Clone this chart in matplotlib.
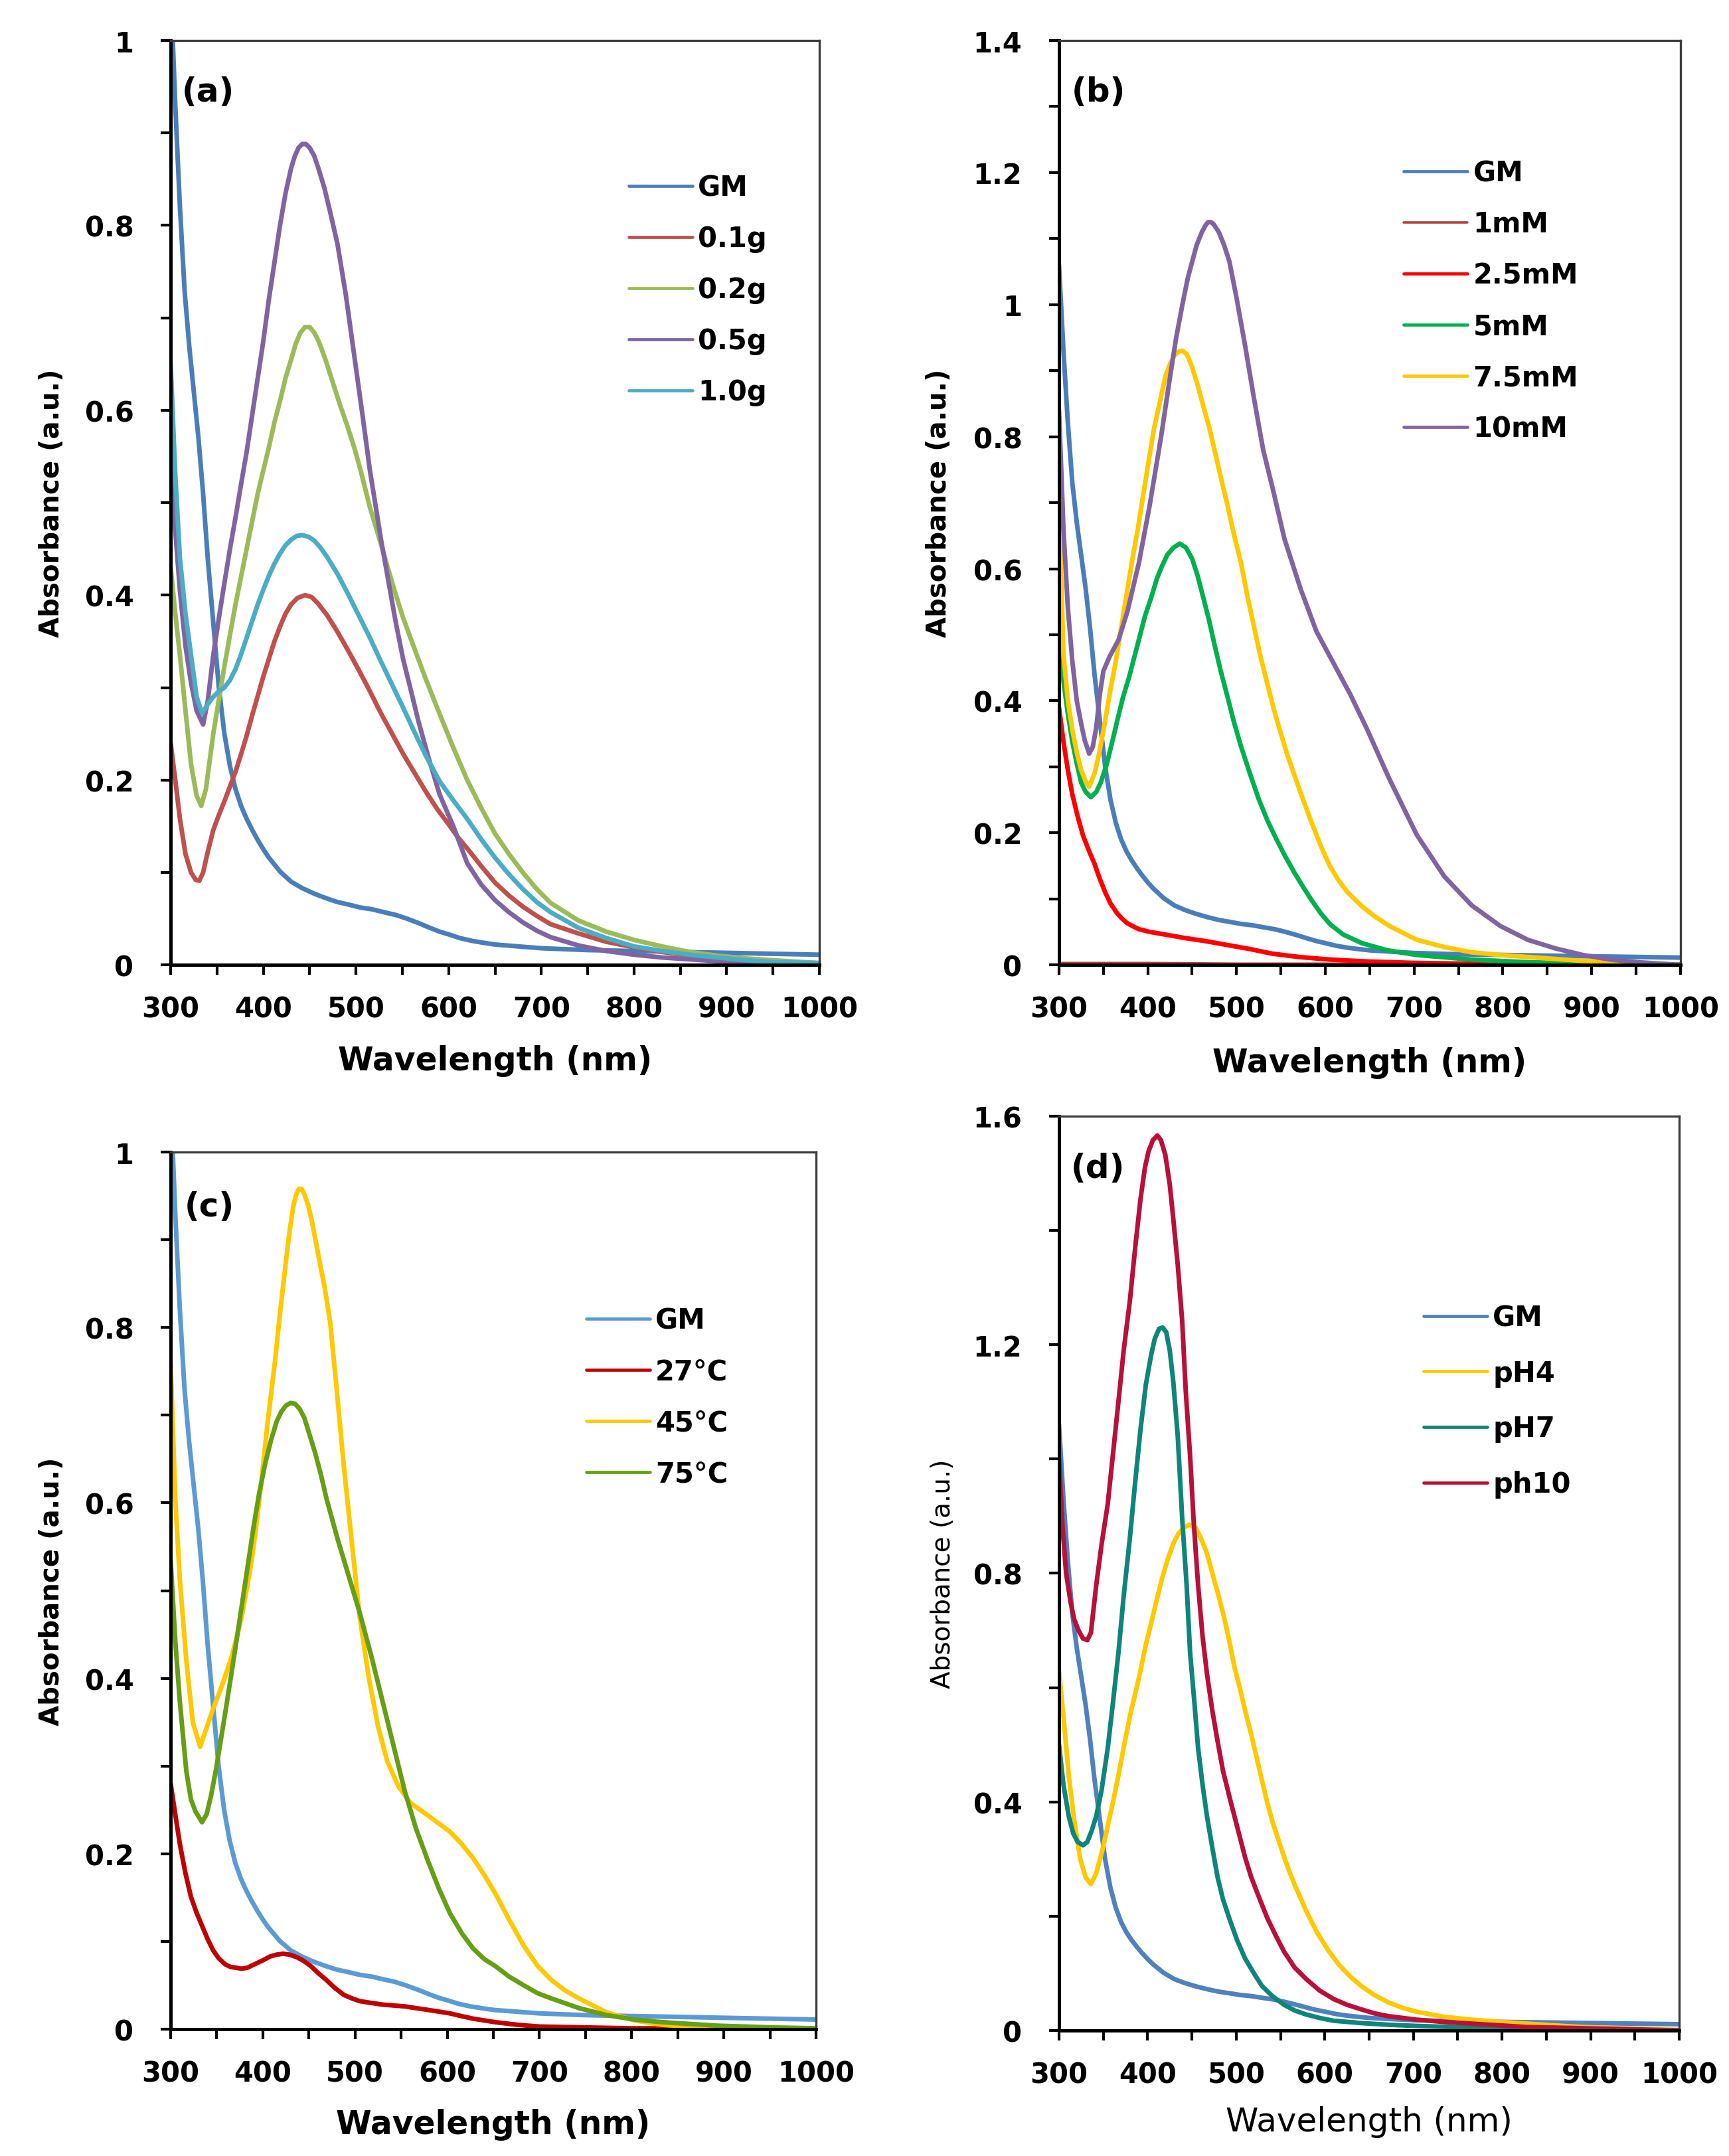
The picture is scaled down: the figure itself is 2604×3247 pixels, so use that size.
import matplotlib
matplotlib.use("Agg")
import matplotlib.pyplot as plt
from matplotlib.ticker import MultipleLocator, FuncFormatter

plt.rcParams['font.family'] = ['DejaVu Sans']
plt.rcParams['font.weight'] = 'bold'

# ---------------- data ----------------
# GM (shared reference spectrum)
gm_wl = [300, 305, 310, 315, 320, 325, 330, 335, 340, 346, 352, 358, 364, 370, 376, 382, 388, 394, 400, 406,
         418, 430, 442, 455, 468, 480, 493, 505, 518, 530, 543, 555, 568, 580, 590, 600, 612, 625, 637, 650,
         675, 700, 750, 800, 850, 900, 950, 1000]
gm_abs = [1.06, 0.93, 0.82, 0.73, 0.67, 0.62, 0.57, 0.51, 0.44, 0.37, 0.30, 0.25, 0.215, 0.19, 0.172, 0.158, 0.146,
          0.135, 0.125, 0.116, 0.101, 0.09, 0.083, 0.077, 0.072, 0.068, 0.065, 0.062, 0.06, 0.057, 0.054, 0.05,
          0.045, 0.04, 0.036, 0.033, 0.029, 0.026, 0.024, 0.022, 0.02, 0.018, 0.016, 0.015, 0.014, 0.013, 0.012, 0.011]

# (a) amount
a01_wl = [300, 305, 310, 316, 322, 327, 331, 335, 340, 346, 352, 358, 364, 370, 376, 382, 388, 394, 400, 406, 412,
          418, 424, 430, 437, 445, 452, 459, 469, 479, 491, 503, 515, 527, 539, 551, 563, 575, 588, 600, 610, 620,
          635, 650, 665, 680, 695, 710, 740, 770, 800, 830, 860, 890, 920, 950, 1000]
a01_abs = [0.24, 0.2, 0.158, 0.12, 0.1, 0.092, 0.091, 0.1, 0.122, 0.146, 0.162, 0.177, 0.193, 0.209, 0.228, 0.248,
           0.27, 0.291, 0.312, 0.331, 0.35, 0.366, 0.38, 0.39, 0.397, 0.4, 0.398, 0.391, 0.378, 0.362, 0.341, 0.319,
           0.296, 0.272, 0.25, 0.228, 0.208, 0.188, 0.168, 0.152, 0.138, 0.126, 0.107, 0.089, 0.075, 0.063, 0.053,
           0.044, 0.034, 0.025, 0.019, 0.014, 0.01, 0.006, 0.004, 0.002, 0.0]
a02_wl = [300, 305, 310, 316, 322, 328, 333, 338, 346, 352, 358, 364, 370, 376, 382, 388, 394, 400, 406, 412, 418,
          424, 430, 435, 440, 445, 450, 455, 460, 467, 475, 483, 490, 498, 505, 515, 527, 540, 551, 562, 575, 590,
          605, 620, 635, 650, 665, 680, 695, 710, 740, 770, 800, 830, 860, 890, 920, 950, 1000]
a02_abs = [0.43, 0.38, 0.335, 0.275, 0.217, 0.183, 0.172, 0.19, 0.25, 0.287, 0.323, 0.357, 0.39, 0.42, 0.45, 0.48,
           0.51, 0.535, 0.56, 0.587, 0.61, 0.635, 0.655, 0.672, 0.684, 0.69, 0.69, 0.684, 0.674, 0.655, 0.63, 0.605,
           0.585, 0.56, 0.535, 0.495, 0.455, 0.41, 0.375, 0.345, 0.31, 0.272, 0.235, 0.2, 0.17, 0.142, 0.12, 0.1,
           0.082, 0.067, 0.048, 0.036, 0.027, 0.02, 0.014, 0.01, 0.007, 0.005, 0.002]
a05_wl = [300, 305, 310, 316, 322, 328, 335, 340, 346, 352, 358, 364, 370, 376, 382, 388, 394, 400, 406, 412, 418,
          424, 430, 434, 438, 442, 446, 450, 455, 460, 466, 472, 480, 489, 498, 507, 515, 527, 535, 543, 551, 559,
          567, 578, 590, 605, 620, 635, 650, 665, 680, 695, 710, 740, 770, 800, 830, 860, 890, 920, 950, 1000]
a05_abs = [0.55, 0.47, 0.405, 0.345, 0.305, 0.275, 0.26, 0.285, 0.335, 0.375, 0.413, 0.45, 0.484, 0.52, 0.555, 0.595,
           0.635, 0.675, 0.72, 0.76, 0.8, 0.835, 0.862, 0.875, 0.884, 0.888, 0.888, 0.884, 0.875, 0.86, 0.84, 0.815,
           0.78, 0.725, 0.66, 0.595, 0.535, 0.46, 0.415, 0.37, 0.33, 0.298, 0.265, 0.225, 0.185, 0.15, 0.11, 0.087,
           0.07, 0.057, 0.046, 0.037, 0.03, 0.021, 0.015, 0.011, 0.008, 0.006, 0.004, 0.002, 0.001, 0.0]
a10_wl = [300, 305, 310, 316, 322, 328, 334, 340, 346, 352, 358, 364, 370, 376, 382, 388, 394, 400, 406, 412, 418,
          424, 430, 436, 442, 449, 455, 462, 469, 480, 491, 503, 515, 527, 539, 551, 563, 576, 590, 605, 620, 635,
          650, 665, 680, 695, 710, 740, 770, 800, 830, 860, 890, 920, 950, 1000]
a10_abs = [0.65, 0.53, 0.44, 0.38, 0.335, 0.29, 0.272, 0.282, 0.29, 0.296, 0.3, 0.308, 0.32, 0.336, 0.354, 0.372,
           0.39, 0.406, 0.421, 0.434, 0.445, 0.454, 0.46, 0.464, 0.465, 0.463, 0.459, 0.451, 0.441, 0.423, 0.402,
           0.378, 0.354, 0.328, 0.303, 0.278, 0.252, 0.225, 0.199, 0.178, 0.158, 0.136, 0.116, 0.098, 0.082, 0.068,
           0.057, 0.04, 0.029, 0.02, 0.015, 0.011, 0.008, 0.005, 0.003, 0.002]

# (b) concentration
b1_wl = [300, 400, 500, 600, 700, 800, 900, 1000]
b1_abs = [0.003, 0.003, 0.002, 0.002, 0.002, 0.002, 0.002, 0.002]
b25_wl = [300, 305, 310, 315, 321, 327, 334, 340, 346, 352, 358, 365, 371, 377, 384, 390, 402, 415, 428, 440, 465,
          490, 515, 540, 570, 605, 650, 700, 800, 900, 1000]
b25_abs = [0.39, 0.338, 0.295, 0.258, 0.225, 0.196, 0.172, 0.153, 0.13, 0.11, 0.093, 0.079, 0.07, 0.063, 0.058,
           0.054, 0.05, 0.047, 0.044, 0.041, 0.036, 0.03, 0.024, 0.017, 0.012, 0.008, 0.005, 0.003, 0.001, 0.0, 0.0]
b5_wl = [300, 305, 310, 315, 320, 325, 330, 336, 342, 347, 354, 360, 366, 372, 379, 385, 391, 397, 404, 410, 416,
         422, 429, 436, 443, 450, 456, 462, 469, 475, 482, 490, 497, 505, 515, 525, 535, 545, 555, 565, 575, 585,
         595, 605, 620, 641, 670, 703, 765, 828, 900, 1000]
b5_abs = [0.52, 0.43, 0.38, 0.338, 0.305, 0.276, 0.262, 0.254, 0.262, 0.276, 0.305, 0.338, 0.372, 0.405, 0.436,
          0.467, 0.498, 0.529, 0.557, 0.584, 0.604, 0.621, 0.632, 0.638, 0.632, 0.615, 0.59, 0.559, 0.522, 0.486,
          0.446, 0.405, 0.368, 0.331, 0.29, 0.251, 0.218, 0.19, 0.164, 0.14, 0.118, 0.097, 0.078, 0.062, 0.046,
          0.033, 0.022, 0.015, 0.008, 0.004, 0.002, 0.0]
b75_wl = [300, 305, 310, 315, 320, 325, 330, 334, 340, 345, 351, 357, 364, 370, 376, 382, 389, 395, 401, 407, 414,
          420, 425, 430, 435, 439, 444, 450, 456, 462, 469, 475, 482, 490, 497, 505, 512, 520, 527, 535, 542, 550,
          557, 565, 575, 585, 595, 605, 615, 625, 641, 656, 672, 703, 734, 765, 797, 828, 859, 890, 952, 1000]
b75_abs = [0.7, 0.47, 0.4, 0.356, 0.322, 0.295, 0.278, 0.27, 0.29, 0.319, 0.362, 0.41, 0.46, 0.51, 0.56, 0.609,
           0.662, 0.713, 0.763, 0.812, 0.855, 0.892, 0.91, 0.923, 0.929, 0.93, 0.925, 0.905, 0.879, 0.849, 0.815,
           0.781, 0.74, 0.695, 0.652, 0.609, 0.56, 0.51, 0.467, 0.424, 0.387, 0.35, 0.319, 0.288, 0.25, 0.214,
           0.18, 0.15, 0.128, 0.11, 0.089, 0.073, 0.059, 0.038, 0.027, 0.019, 0.015, 0.012, 0.009, 0.006, 0.002, 0.0]
b10_wl = [300, 305, 310, 315, 320, 325, 329, 334, 338, 342, 346, 350, 357, 367, 377, 390, 402, 415, 425, 432, 439,
          445, 450, 455, 461, 465, 468, 471, 474, 480, 486, 492, 500, 510, 520, 530, 541, 554, 572, 590, 610, 628,
          647, 672, 703, 734, 765, 797, 828, 859, 890, 921, 952, 1000]
b10_abs = [0.84, 0.66, 0.54, 0.46, 0.4, 0.365, 0.34, 0.32, 0.33, 0.36, 0.41, 0.445, 0.467, 0.492, 0.535, 0.609,
           0.695, 0.8, 0.89, 0.95, 1.0, 1.04, 1.065, 1.09, 1.11, 1.12, 1.125, 1.125, 1.122, 1.11, 1.09, 1.065, 1.01,
           0.935, 0.855, 0.78, 0.72, 0.645, 0.57, 0.505, 0.455, 0.41, 0.357, 0.282, 0.197, 0.134, 0.09, 0.059,
           0.038, 0.025, 0.015, 0.008, 0.004, 0.0]

# (c) temperature
c27_wl = [300, 305, 310, 316, 322, 328, 334, 340, 346, 352, 359, 365, 371, 377, 383, 389, 395, 401, 408, 415, 422,
          429, 437, 444, 452, 460, 469, 478, 488, 497, 505, 517, 530, 542, 554, 566, 579, 591, 603, 615, 628, 640,
          652, 676, 700, 750, 800, 850, 900, 1000]
c27_abs = [0.28, 0.245, 0.211, 0.178, 0.151, 0.133, 0.118, 0.103, 0.09, 0.081, 0.074, 0.071, 0.07, 0.069, 0.07,
           0.073, 0.076, 0.079, 0.083, 0.085, 0.086, 0.085, 0.082, 0.078, 0.072, 0.064, 0.056, 0.047, 0.039, 0.035,
           0.032, 0.03, 0.028, 0.027, 0.026, 0.024, 0.022, 0.02, 0.018, 0.015, 0.012, 0.01, 0.008, 0.005, 0.003,
           0.002, 0.001, 0.001, 0.0, 0.0]
c45_wl = [300, 305, 310, 317, 324, 332, 341, 347, 354, 360, 366, 372, 378, 383, 388, 393, 398, 405, 413, 419, 425,
          429, 433, 436, 439, 442, 445, 449, 453, 457, 461, 467, 473, 480, 488, 497, 505, 515, 525, 535, 547, 560,
          580, 603, 615, 628, 640, 652, 667, 683, 698, 713, 728, 743, 773, 803, 833, 863, 893, 950, 1000]
c45_abs = [0.76, 0.605, 0.512, 0.42, 0.35, 0.322, 0.35, 0.368, 0.387, 0.405, 0.424, 0.448, 0.475, 0.505, 0.535,
           0.575, 0.62, 0.69, 0.76, 0.82, 0.875, 0.91, 0.938, 0.951, 0.958, 0.958, 0.952, 0.94, 0.922, 0.9, 0.878,
           0.846, 0.806, 0.73, 0.64, 0.55, 0.47, 0.4, 0.345, 0.305, 0.277, 0.258, 0.243, 0.225, 0.212, 0.195, 0.176,
           0.155, 0.125, 0.095, 0.072, 0.056, 0.044, 0.035, 0.019, 0.01, 0.005, 0.003, 0.002, 0.001, 0.0]
c75_wl = [300, 305, 310, 317, 322, 327, 334, 339, 344, 349, 354, 360, 366, 372, 378, 384, 390, 396, 403, 409, 415,
          420, 425, 430, 435, 440, 445, 450, 457, 463, 469, 481, 493, 505, 518, 530, 542, 554, 566, 579, 591, 603,
          616, 628, 640, 652, 667, 683, 698, 713, 743, 773, 803, 833, 863, 893, 953, 1000]
c75_abs = [0.535, 0.443, 0.373, 0.294, 0.262, 0.248, 0.236, 0.245, 0.267, 0.295, 0.327, 0.366, 0.406, 0.447, 0.489,
           0.531, 0.573, 0.611, 0.647, 0.672, 0.693, 0.704, 0.711, 0.714, 0.713, 0.707, 0.697, 0.68, 0.656, 0.632,
           0.605, 0.559, 0.517, 0.475, 0.424, 0.373, 0.322, 0.271, 0.229, 0.192, 0.16, 0.132, 0.109, 0.092, 0.08,
           0.072, 0.06, 0.05, 0.041, 0.035, 0.024, 0.016, 0.011, 0.008, 0.006, 0.004, 0.002, 0.001]

# (d) pH
d4_wl = [300, 305, 311, 317, 324, 330, 336, 342, 349, 355, 361, 367, 373, 380, 386, 392, 398, 405, 411, 417, 423,
         429, 435, 441, 447, 454, 460, 467, 473, 479, 486, 492, 498, 504, 510, 517, 523, 529, 535, 541, 548, 554,
         560, 566, 579, 591, 604, 616, 629, 641, 656, 672, 687, 703, 734, 765, 797, 828, 859, 890, 950, 1000]
d4_abs = [0.63, 0.55, 0.446, 0.37, 0.3, 0.268, 0.256, 0.275, 0.316, 0.358, 0.4, 0.446, 0.495, 0.55, 0.589, 0.63,
          0.675, 0.719, 0.758, 0.795, 0.826, 0.852, 0.87, 0.88, 0.885, 0.88, 0.862, 0.835, 0.8, 0.767, 0.725, 0.683,
          0.636, 0.6, 0.56, 0.518, 0.478, 0.438, 0.399, 0.365, 0.332, 0.304, 0.278, 0.255, 0.209, 0.172, 0.14,
          0.115, 0.094, 0.078, 0.062, 0.049, 0.04, 0.033, 0.024, 0.019, 0.015, 0.012, 0.009, 0.006, 0.003, 0.001]
d7_wl = [300, 305, 311, 316, 321, 327, 332, 337, 342, 348, 355, 361, 367, 373, 380, 386, 392, 398, 404, 408, 413,
         417, 421, 425, 429, 434, 439, 444, 448, 453, 457, 462, 467, 473, 479, 485, 492, 501, 510, 520, 529, 541,
         554, 566, 579, 594, 610, 641, 672, 703, 765, 828, 890, 950, 1000]
d7_abs = [0.5, 0.43, 0.375, 0.345, 0.33, 0.324, 0.33, 0.35, 0.375, 0.42, 0.494, 0.575, 0.66, 0.76, 0.862, 0.96,
          1.052, 1.13, 1.182, 1.21, 1.228, 1.23, 1.222, 1.19, 1.135, 1.04, 0.897, 0.78, 0.66, 0.57, 0.494, 0.43,
          0.375, 0.32, 0.268, 0.23, 0.197, 0.158, 0.126, 0.1, 0.078, 0.06, 0.045, 0.035, 0.028, 0.022, 0.017,
          0.013, 0.01, 0.008, 0.005, 0.003, 0.002, 0.001, 0.0]
d10_wl = [300, 304, 308, 313, 317, 322, 327, 332, 336, 342, 348, 355, 361, 367, 373, 380, 386, 392, 397, 401, 406,
          411, 415, 420, 425, 429, 434, 439, 443, 448, 452, 457, 462, 467, 473, 479, 485, 492, 498, 504, 510, 517,
          526, 535, 545, 554, 566, 579, 594, 610, 625, 641, 656, 672, 703, 734, 765, 797, 828, 859, 890, 950, 1000]
d10_abs = [1.0, 0.88, 0.8, 0.75, 0.72, 0.7, 0.686, 0.683, 0.696, 0.779, 0.85, 0.921, 1.01, 1.099, 1.19, 1.277, 1.37,
           1.455, 1.51, 1.538, 1.558, 1.566, 1.558, 1.532, 1.48, 1.42, 1.34, 1.242, 1.12, 1.004, 0.89, 0.779, 0.69,
           0.624, 0.56, 0.506, 0.455, 0.411, 0.375, 0.339, 0.303, 0.268, 0.232, 0.197, 0.165, 0.138, 0.11, 0.09,
           0.07, 0.055, 0.045, 0.037, 0.03, 0.025, 0.019, 0.015, 0.012, 0.009, 0.006, 0.005, 0.004, 0.002, 0.0]

# labels
labels_a = ['GM', '0.1g', '0.2g', '0.5g', '1.0g']
labels_b = ['GM', '1mM', '2.5mM', '5mM', '7.5mM', '10mM']
labels_c = ['GM', '27°C', '45°C', '75°C']
labels_d = ['GM', 'pH4', 'pH7', 'ph10']

# ---------------- figure ----------------
fig = plt.figure(figsize=(26.04, 32.48), dpi=100)
fig.patch.set_facecolor('white')

LW = 5.0
fmt = FuncFormatter(lambda v, p: f'{v:g}')


def style(ax, ymax, ymaj, ymin, bold_labels=True, xlab_y=-0.104, ylab_x=-0.185,
          xlab_size=35, ylab_size=29):
    ax.set_xlim(300, 1000)
    ax.set_ylim(0, ymax)
    ax.xaxis.set_major_locator(MultipleLocator(100))
    ax.xaxis.set_minor_locator(MultipleLocator(50))
    ax.yaxis.set_major_locator(MultipleLocator(ymaj))
    ax.yaxis.set_minor_locator(MultipleLocator(ymin))
    ax.xaxis.set_major_formatter(fmt)
    ax.yaxis.set_major_formatter(fmt)
    ax.tick_params(which='both', direction='out', length=11, width=3, color='black',
                   top=False, right=False)
    ax.tick_params(axis='x', which='major', pad=22, labelsize=30)
    ax.tick_params(axis='y', which='major', pad=29, labelsize=30)
    for s in ('left', 'bottom'):
        ax.spines[s].set_linewidth(3.6)
        ax.spines[s].set_color('black')
    for s in ('top', 'right'):
        ax.spines[s].set_linewidth(2.4)
        ax.spines[s].set_color('#3c3c3c')
    w = 'bold' if bold_labels else 'normal'
    ax.set_xlabel('Wavelength (nm)', fontsize=xlab_size, fontweight=w, va='center')
    ax.set_ylabel('Absorbance (a.u.)', fontsize=ylab_size, fontweight=w, va='center')
    ax.xaxis.set_label_coords(0.5, xlab_y)
    ax.yaxis.set_label_coords(ylab_x, 0.5)


def add_legend(ax, x0, ytop, spacing):
    leg = ax.legend(loc='upper left', bbox_to_anchor=(x0, ytop), frameon=False,
                    borderpad=0, borderaxespad=0, handlelength=2.3, handletextpad=0.2,
                    labelspacing=spacing, prop={'size': 30, 'weight': 'bold'})
    for ln in leg.get_lines():
        ln.set_linewidth(3.4)
    return leg


def panel_label(ax, txt, x, y):
    ax.text(x, y, txt, transform=ax.transAxes, ha='center', va='center',
            fontsize=36, fontweight='bold')


# (a)
ax = fig.add_axes([0.0987, 0.5523, 0.3752, 0.4286])
series_a = [(gm_wl, gm_abs, '#4A7EBB'), (a01_wl, a01_abs, '#C0504D'), (a02_wl, a02_abs, '#9BBB59'),
            (a05_wl, a05_abs, '#8064A2'), (a10_wl, a10_abs, '#4BACC6')]
for (x, y, c), lab in zip(series_a, labels_a):
    ax.plot(x, y, color=c, lw=LW, label=lab, solid_joinstyle='round', solid_capstyle='round')
style(ax, 1.0, 0.2, 0.1, xlab_y=-0.1035, ylab_x=-0.183)
add_legend(ax, 0.706, 0.856, 0.84)
panel_label(ax, '(a)', 0.058, 0.945)

# (b)
ax = fig.add_axes([0.6125, 0.5523, 0.3594, 0.4286])
series_b = [(gm_wl, gm_abs, '#4A7EBB', LW), (b1_wl, b1_abs, '#B0413E', 2.4), (b25_wl, b25_abs, '#FF0000', LW),
            (b5_wl, b5_abs, '#00B050', LW), (b75_wl, b75_abs, '#FFC800', LW), (b10_wl, b10_abs, '#8064A2', LW)]
for (x, y, c, lw), lab in zip(series_b, labels_b):
    ax.plot(x, y, color=c, lw=lw, label=lab, solid_joinstyle='round', solid_capstyle='round')
style(ax, 1.4, 0.2, 0.1, xlab_y=-0.1055, ylab_x=-0.193)
leg = add_legend(ax, 0.555, 0.872, 0.84)
leg.get_lines()[1].set_linewidth(2.6)
panel_label(ax, '(b)', 0.064, 0.945)

# (c)
ax = fig.add_axes([0.0987, 0.0588, 0.3733, 0.4067])
series_c = [(gm_wl, gm_abs, '#5B9BD5'), (c27_wl, c27_abs, '#C00000'), (c45_wl, c45_abs, '#FFC800'),
            (c75_wl, c75_abs, '#669E14')]
for (x, y, c), lab in zip(series_c, labels_c):
    ax.plot(x, y, color=c, lw=LW, label=lab, solid_joinstyle='round', solid_capstyle='round')
style(ax, 1.0, 0.2, 0.1, xlab_y=-0.108, ylab_x=-0.184)
add_legend(ax, 0.644, 0.824, 0.84)
panel_label(ax, '(c)', 0.06, 0.938)

# (d)
ax = fig.add_axes([0.6125, 0.0582, 0.3587, 0.4240])
series_d = [(gm_wl, gm_abs, '#4F81BD'), (d4_wl, d4_abs, '#FFC800'), (d7_wl, d7_abs, '#0E857A'),
            (d10_wl, d10_abs, '#B8103A')]
for (x, y, c), lab in zip(series_d, labels_d):
    ax.plot(x, y, color=c, lw=LW, label=lab, solid_joinstyle='round', solid_capstyle='round')
style(ax, 1.6, 0.4, 0.2, bold_labels=False, xlab_y=-0.0995, ylab_x=-0.187,
      xlab_size=36, ylab_size=28)
add_legend(ax, 0.588, 0.795, 1.0)
panel_label(ax, '(d)', 0.063, 0.943)

fig.savefig('out.png', dpi=100, facecolor='white')
